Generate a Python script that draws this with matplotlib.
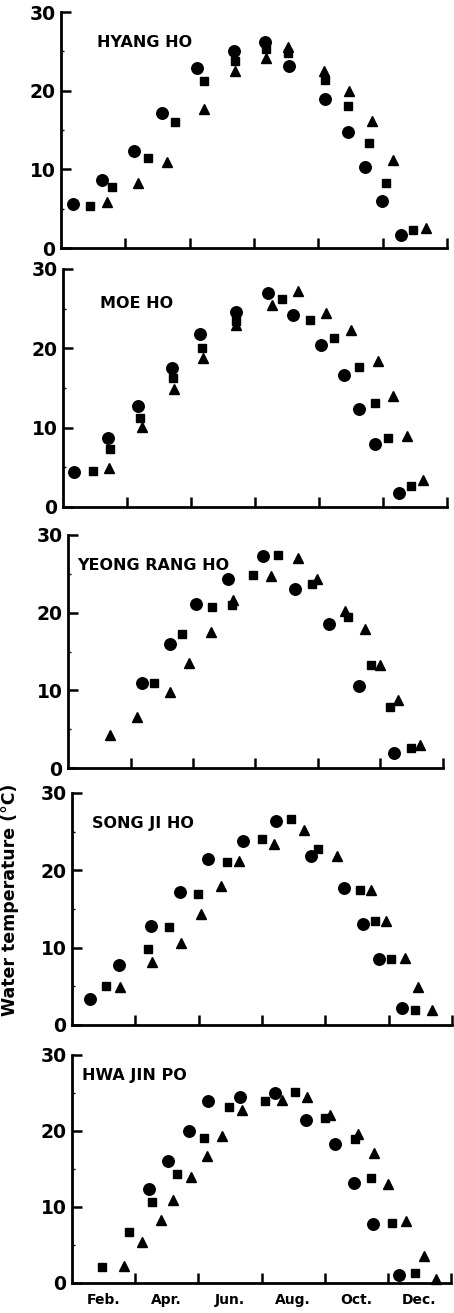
import numpy as np
import matplotlib
matplotlib.use("Agg")
import matplotlib.pyplot as plt
from matplotlib.ticker import MultipleLocator

# month axis: 0 = start of Jan, 12 = end of Dec
month_labels = ["Feb.", "Apr.", "Jun.", "Aug.", "Oct.", "Dec."]
month_label_pos = [1, 3, 5, 7, 9, 11]
lake_names = ["HYANG HO", "MOE HO", "YEONG RANG HO", "SONG JI HO", "HWA JIN PO"]

# HYANG HO
hyang_circ_m = [0.36, 1.26, 2.28, 3.15, 4.24, 5.39, 6.34, 7.09, 8.21, 8.91, 9.45, 9.97, 10.57]
hyang_circ_t = [5.6, 8.7, 12.3, 17.1, 22.9, 25.1, 26.2, 23.1, 18.9, 14.7, 10.3, 6.0, 1.7]
hyang_sq_m = [0.90, 1.58, 2.71, 3.54, 4.45, 5.42, 6.36, 7.07, 8.21, 8.92, 9.58, 10.09, 10.95]
hyang_sq_t = [5.4, 7.8, 11.4, 16.0, 21.2, 23.8, 25.3, 24.8, 21.4, 18.1, 13.4, 8.3, 2.3]
hyang_tri_m = [1.42, 2.38, 3.28, 4.45, 5.41, 6.36, 7.07, 8.19, 8.96, 9.68, 10.33, 11.34]
hyang_tri_t = [5.9, 8.3, 10.9, 17.7, 22.5, 24.2, 25.6, 22.5, 19.9, 16.1, 11.2, 2.6]

# MOE HO
moe_circ_m = [0.35, 1.40, 2.33, 3.41, 4.29, 5.40, 6.41, 7.18, 8.06, 8.77, 9.26, 9.74, 10.49]
moe_circ_t = [4.4, 8.75, 12.7, 17.5, 21.75, 24.6, 27.0, 24.2, 20.4, 16.6, 12.3, 7.9, 1.8]
moe_sq_m = [0.94, 1.48, 2.40, 3.44, 4.33, 5.40, 6.84, 7.71, 8.46, 9.26, 9.74, 10.16, 10.88]
moe_sq_t = [4.5, 7.3, 11.25, 16.25, 20.1, 23.5, 26.25, 23.6, 21.3, 17.6, 13.1, 8.7, 2.7]
moe_tri_m = [1.45, 2.47, 3.48, 4.36, 5.40, 6.53, 7.34, 8.23, 9.00, 9.84, 10.31, 10.75, 11.25]
moe_tri_t = [4.9, 10.1, 14.9, 18.75, 23.0, 25.5, 27.2, 24.5, 22.3, 18.4, 14.0, 8.9, 3.4]

# YEONG RANG HO
yeong_circ_m = [2.36, 3.25, 4.10, 5.13, 6.25, 7.26, 8.36, 9.31, 10.44]
yeong_circ_t = [10.9, 16.0, 21.1, 24.3, 27.3, 23.1, 18.5, 10.6, 1.9]
yeong_sq_m = [2.74, 3.64, 4.62, 5.25, 5.91, 6.73, 7.82, 8.97, 9.69, 10.30, 10.97]
yeong_sq_t = [11.0, 17.3, 20.7, 21.0, 24.9, 27.4, 23.7, 19.4, 13.2, 7.9, 2.55]
yeong_tri_m = [1.33, 2.20, 3.25, 3.88, 4.57, 5.29, 6.49, 7.37, 7.96, 8.86, 9.52, 9.98, 10.56, 11.26]
yeong_tri_t = [4.3, 6.6, 9.8, 13.5, 17.5, 21.6, 24.7, 27.1, 24.3, 20.2, 17.9, 13.3, 8.7, 3.0]

# SONG JI HO
song_circ_m = [0.56, 1.48, 2.50, 3.41, 4.30, 5.40, 6.44, 7.55, 8.58, 9.18, 9.71, 10.42]
song_circ_t = [3.3, 7.75, 12.8, 17.2, 21.5, 23.8, 26.4, 21.8, 17.7, 13.1, 8.5, 2.2]
song_sq_m = [1.08, 2.40, 3.06, 3.98, 4.91, 6.00, 6.93, 7.76, 9.08, 9.57, 10.06, 10.84]
song_sq_t = [5.0, 9.8, 12.7, 16.9, 21.1, 24.0, 26.6, 22.7, 17.5, 13.4, 8.5, 1.9]
song_tri_m = [1.53, 2.53, 3.43, 4.06, 4.72, 5.28, 6.38, 7.33, 8.36, 9.45, 9.92, 10.53, 10.92, 11.37]
song_tri_t = [4.9, 8.2, 10.6, 14.3, 18.0, 21.2, 23.4, 25.2, 21.8, 17.5, 13.4, 8.6, 4.9, 2.0]

# HWA JIN PO
hwa_circ_m = [2.43, 3.03, 3.72, 4.30, 5.31, 6.44, 7.42, 8.32, 8.92, 9.52, 10.36]
hwa_circ_t = [12.4, 16.1, 20.0, 23.9, 24.5, 25.0, 21.4, 18.3, 13.2, 7.7, 1.0]
hwa_sq_m = [0.95, 1.82, 2.53, 3.32, 4.17, 4.96, 6.10, 7.07, 8.02, 8.97, 9.48, 10.13, 10.85]
hwa_sq_t = [2.1, 6.7, 10.6, 14.4, 19.1, 23.1, 23.9, 25.1, 21.7, 18.9, 13.8, 7.9, 1.3]
hwa_tri_m = [1.66, 2.22, 2.83, 3.20, 3.77, 4.27, 4.75, 5.38, 6.65, 7.44, 8.16, 9.04, 9.57,
             9.99, 10.58, 11.13, 11.52]
hwa_tri_t = [2.2, 5.4, 8.3, 10.9, 13.9, 16.7, 19.3, 22.7, 24.1, 24.5, 22.1, 19.6, 17.1,
             13.0, 8.1, 3.5, 0.5]

panels = [
    (hyang_circ_m, hyang_circ_t, hyang_sq_m, hyang_sq_t, hyang_tri_m, hyang_tri_t),
    (moe_circ_m, moe_circ_t, moe_sq_m, moe_sq_t, moe_tri_m, moe_tri_t),
    (yeong_circ_m, yeong_circ_t, yeong_sq_m, yeong_sq_t, yeong_tri_m, yeong_tri_t),
    (song_circ_m, song_circ_t, song_sq_m, song_sq_t, song_tri_m, song_tri_t),
    (hwa_circ_m, hwa_circ_t, hwa_sq_m, hwa_sq_t, hwa_tri_m, hwa_tri_t),
]

W, H = 454, 1313
# pixel boxes of each panel: left, right, top (30), bottom (0)
boxes = [(61, 447, 12, 248), (63, 447, 269, 507), (68, 443, 535, 768),
         (72, 452, 793, 1025), (72, 451, 1055, 1283)]
title_pos = [(0.093, 0.87), (0.096, 0.857), (0.024, 0.87), (0.053, 0.87), (0.026, 0.91)]

plt.rcParams['font.family'] = 'DejaVu Sans'
plt.rcParams['font.weight'] = 'bold'

fig = plt.figure(figsize=(W / 100, H / 100), dpi=100)

for i, (box, data) in enumerate(zip(boxes, panels)):
    l, r, t, b = box
    ax = fig.add_axes([l / W, (H - b) / H, (r - l) / W, (b - t) / H])
    cm, ct, sm, st, tm, tt = data
    ax.plot(cm, ct, 'o', color='black', markersize=8.3, clip_on=False)
    ax.plot(sm, st, 's', color='black', markersize=5.6, clip_on=False)
    ax.plot(tm, tt, '^', color='black', markersize=7.3, clip_on=False)

    ax.set_xlim(0, 12)
    ax.set_ylim(0, 30)
    for s in ['top', 'right']:
        ax.spines[s].set_visible(False)
    for s in ['left', 'bottom']:
        ax.spines[s].set_linewidth(2.0)

    ax.yaxis.set_major_locator(MultipleLocator(10))
    ax.yaxis.set_minor_locator(MultipleLocator(5))
    ax.set_xticks([2, 4, 6, 8, 10, 12])
    ax.tick_params(axis='y', which='major', direction='in', length=7, width=1.8,
                   labelsize=13.5, pad=4)
    ax.tick_params(axis='y', which='minor', direction='in', length=2.5, width=1)
    ax.tick_params(axis='x', which='major', direction='in', length=7, width=1.8)
    ax.set_xticklabels([])
    for lab in ax.get_yticklabels():
        lab.set_fontweight('bold')

    if i == len(panels) - 1:
        ax.set_xticks(month_label_pos, labels=month_labels, minor=True)
        ax.tick_params(axis='x', which='minor', length=0, labelsize=10, pad=7)
        for lab in ax.get_xticklabels(minor=True):
            lab.set_fontweight('bold')

    tx, ty = title_pos[i]
    ax.text(tx, ty, lake_names[i], transform=ax.transAxes, fontsize=11.5,
            fontweight='bold', va='center', ha='left')

fig.text(10 / W, (H - 900) / H, "Water temperature (\u00b0C)", rotation=90,
         fontsize=12.5, fontweight='bold', va='center', ha='center')

fig.savefig("out.png", dpi=100)
